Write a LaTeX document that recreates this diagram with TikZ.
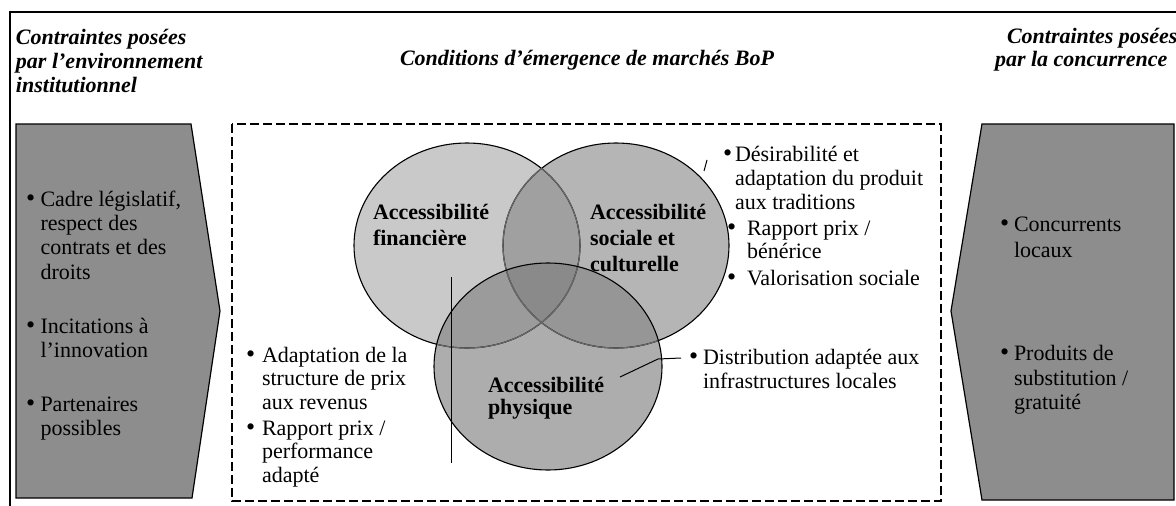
\documentclass[tikz,border=0pt]{standalone}
\usepackage{fontspec}
\setmainfont{Liberation Serif}
\definecolor{boxgray}{RGB}{141,141,141}
\definecolor{cfin}{RGB}{201,201,201}
\definecolor{csoc}{RGB}{181,181,181}
\definecolor{cphys}{RGB}{173,173,173}
\definecolor{cfs}{RGB}{160,160,160}
\definecolor{cfp}{RGB}{155,155,155}
\definecolor{csp}{RGB}{150,150,150}
\definecolor{cfsp}{RGB}{138,138,138}
\definecolor{innerline}{RGB}{105,105,105}
\tikzset{
  txt/.style={anchor=base west, inner sep=0pt, outer sep=0pt, font=\fontsize{22}{24}\selectfont},
  hd/.style={txt, font=\fontsize{22}{24}\selectfont\bfseries\itshape},
  lbl/.style={txt, font=\fontsize{22}{24}\selectfont\bfseries},
  bul/.style={anchor=base west, inner sep=0pt, outer sep=0pt, font=\fontsize{26}{26}\selectfont},
  sidebox/.style={fill=boxgray, draw=black, line width=1.2pt, line join=miter},
  dashbox/.style={draw=black, line width=1.4pt, dash pattern=on 9pt off 4pt},
  outline/.style={draw=black, line width=1.1pt},
  inoutline/.style={draw=innerline, line width=1.1pt},
  conn/.style={draw=black, line width=1pt},
}
\begin{document}
\begin{tikzpicture}[x=1pt,y=-1pt]
\useasboundingbox (0,0) rectangle (1176,506);
\fill[white] (0,0) rectangle (1176,506);

% outer frame
\draw[line width=1.5pt] (10,510) -- (10,12) -- (1180,12);

% headings
\node[hd] (hl1) at (16,44) {Contraintes posées};
\node[hd] (hl2) at (16,68) {par l’environnement};
\node[hd] (hl3) at (16,92) {institutionnel};
\node[hd] (hc) at (400,65) {Conditions d’émergence de marchés BoP};
\node[hd] (hr1) at (1007,43) {Contraintes posées};
\node[hd] (hr2) at (995,66) {par la concurrence};

% side boxes
\draw[sidebox] (16,124) -- (191,124) -- (220,311) -- (192,498) -- (16,498) -- cycle;
\draw[sidebox] (982,124) -- (1174,124) -- (1174,500) -- (982,500) -- (951,311) -- cycle;

% dashed frame
\draw[dashbox] (232,124) rectangle (941,501);

% circles
\def\finpath{(467,245.5) ellipse [x radius=113pt, y radius=102.5pt]}
\def\socpath{(616,245.5) ellipse [x radius=113pt, y radius=102.5pt]}
\def\physpath{(548,366.5) ellipse [x radius=114pt, y radius=103.5pt]}
\fill[cfin] \finpath;
\fill[csoc] \socpath;
\fill[cphys] \physpath;
\begin{scope}\clip \finpath; \fill[cfs] \socpath; \end{scope}
\begin{scope}\clip \finpath; \fill[cfp] \physpath; \end{scope}
\begin{scope}\clip \socpath; \fill[csp] \physpath; \end{scope}
\begin{scope}\clip \finpath; \clip \socpath; \fill[cfsp] \physpath; \end{scope}
\path[outline] \finpath;
\path[outline] \socpath;
\begin{scope}\clip \socpath; \path[inoutline] \finpath; \end{scope}
\begin{scope}\clip \finpath; \path[inoutline] \socpath; \end{scope}
\begin{scope}\clip \physpath; \path[inoutline] \finpath; \path[inoutline] \socpath; \end{scope}
\path[outline] \physpath;

% circle labels
\node[lbl] (fin1) at (373,219) {Accessibilité};
\node[lbl] (fin2) at (373,245) {financière};
\node[lbl] (soc1) at (590,219) {Accessibilité};
\node[lbl] (soc2) at (590,245) {sociale et};
\node[lbl] (soc3) at (590,271) {culturelle};
\node[lbl] (phy1) at (488,392) {Accessibilité};
\node[lbl] (phy2) at (488,414) {physique};

% left box bullets
\node[bul] (lb1) at (26,206) {•};
\node[txt] (l1a) at (40.5,206) {Cadre législatif,};
\node[txt] (l1b) at (40.5,230) {respect des};
\node[txt] (l1c) at (40.5,254) {contrats et des};
\node[txt] (l1d) at (40.5,279) {droits};
\node[bul] (lb2) at (26,333) {•};
\node[txt] (l2a) at (40.5,333) {Incitations à};
\node[txt] (l2b) at (40.5,357) {l’innovation};
\node[bul] (lb3) at (26,411) {•};
\node[txt] (l3a) at (40.5,411) {Partenaires};
\node[txt] (l3b) at (40.5,435) {possibles};

% right box bullets
\node[bul] (rb1) at (1000,231) {•};
\node[txt] (r1a) at (1014,231) {Concurrents};
\node[txt] (r1b) at (1014,257) {locaux};
\node[bul] (rb2) at (1000,360) {•};
\node[txt] (r2a) at (1014,360) {Produits de};
\node[txt] (r2b) at (1014,385) {substitution /};
\node[txt] (r2c) at (1014,409) {gratuité};

% financial text
\node[bul] (fb1) at (246,362) {•};
\node[txt] (f1a) at (262,362) {Adaptation de la};
\node[txt] (f1b) at (262,385) {structure de prix};
\node[txt] (f1c) at (262,409) {aux revenus};
\node[bul] (fb2) at (246,435) {•};
\node[txt] (f2a) at (262,435) {Rapport prix /};
\node[txt] (f2b) at (262,458) {performance};
\node[txt] (f2c) at (262,482) {adapté};

% social text
\node[bul] (sb1) at (723,161) {•};
\node[txt] (s1a) at (735,161) {Désirabilité et};
\node[txt] (s1b) at (735,185) {adaptation du produit};
\node[txt] (s1c) at (735,209) {aux traditions};
\node[bul] (sb2) at (727,235) {•};
\node[txt] (s2a) at (747,235) {Rapport prix /};
\node[txt] (s2b) at (747,258) {bénérice};
\node[bul] (sb3) at (727,285) {•};
\node[txt] (s3a) at (747,285) {Valorisation sociale};

% distribution text
\node[bul] (db1) at (689,364) {•};
\node[txt] (d1a) at (703,364) {Distribution adaptée aux};
\node[txt] (d1b) at (703,388) {infrastructures locales};

% connectors
\coordinate (vtop) at (451,277);
\coordinate (vbot) at (451,463);
\draw[conn] (vtop) -- (vbot);
\coordinate (tickA) at (704,171);
\coordinate (tickB) at (707,160);
\draw[conn] (tickA) -- (tickB);
\coordinate (pA) at (620,377);
\coordinate (pB) at (658,359);
\coordinate (pC) at (681,358);
\draw[conn] (pA) -- (pB) -- (pC);
\end{tikzpicture}
\end{document}
